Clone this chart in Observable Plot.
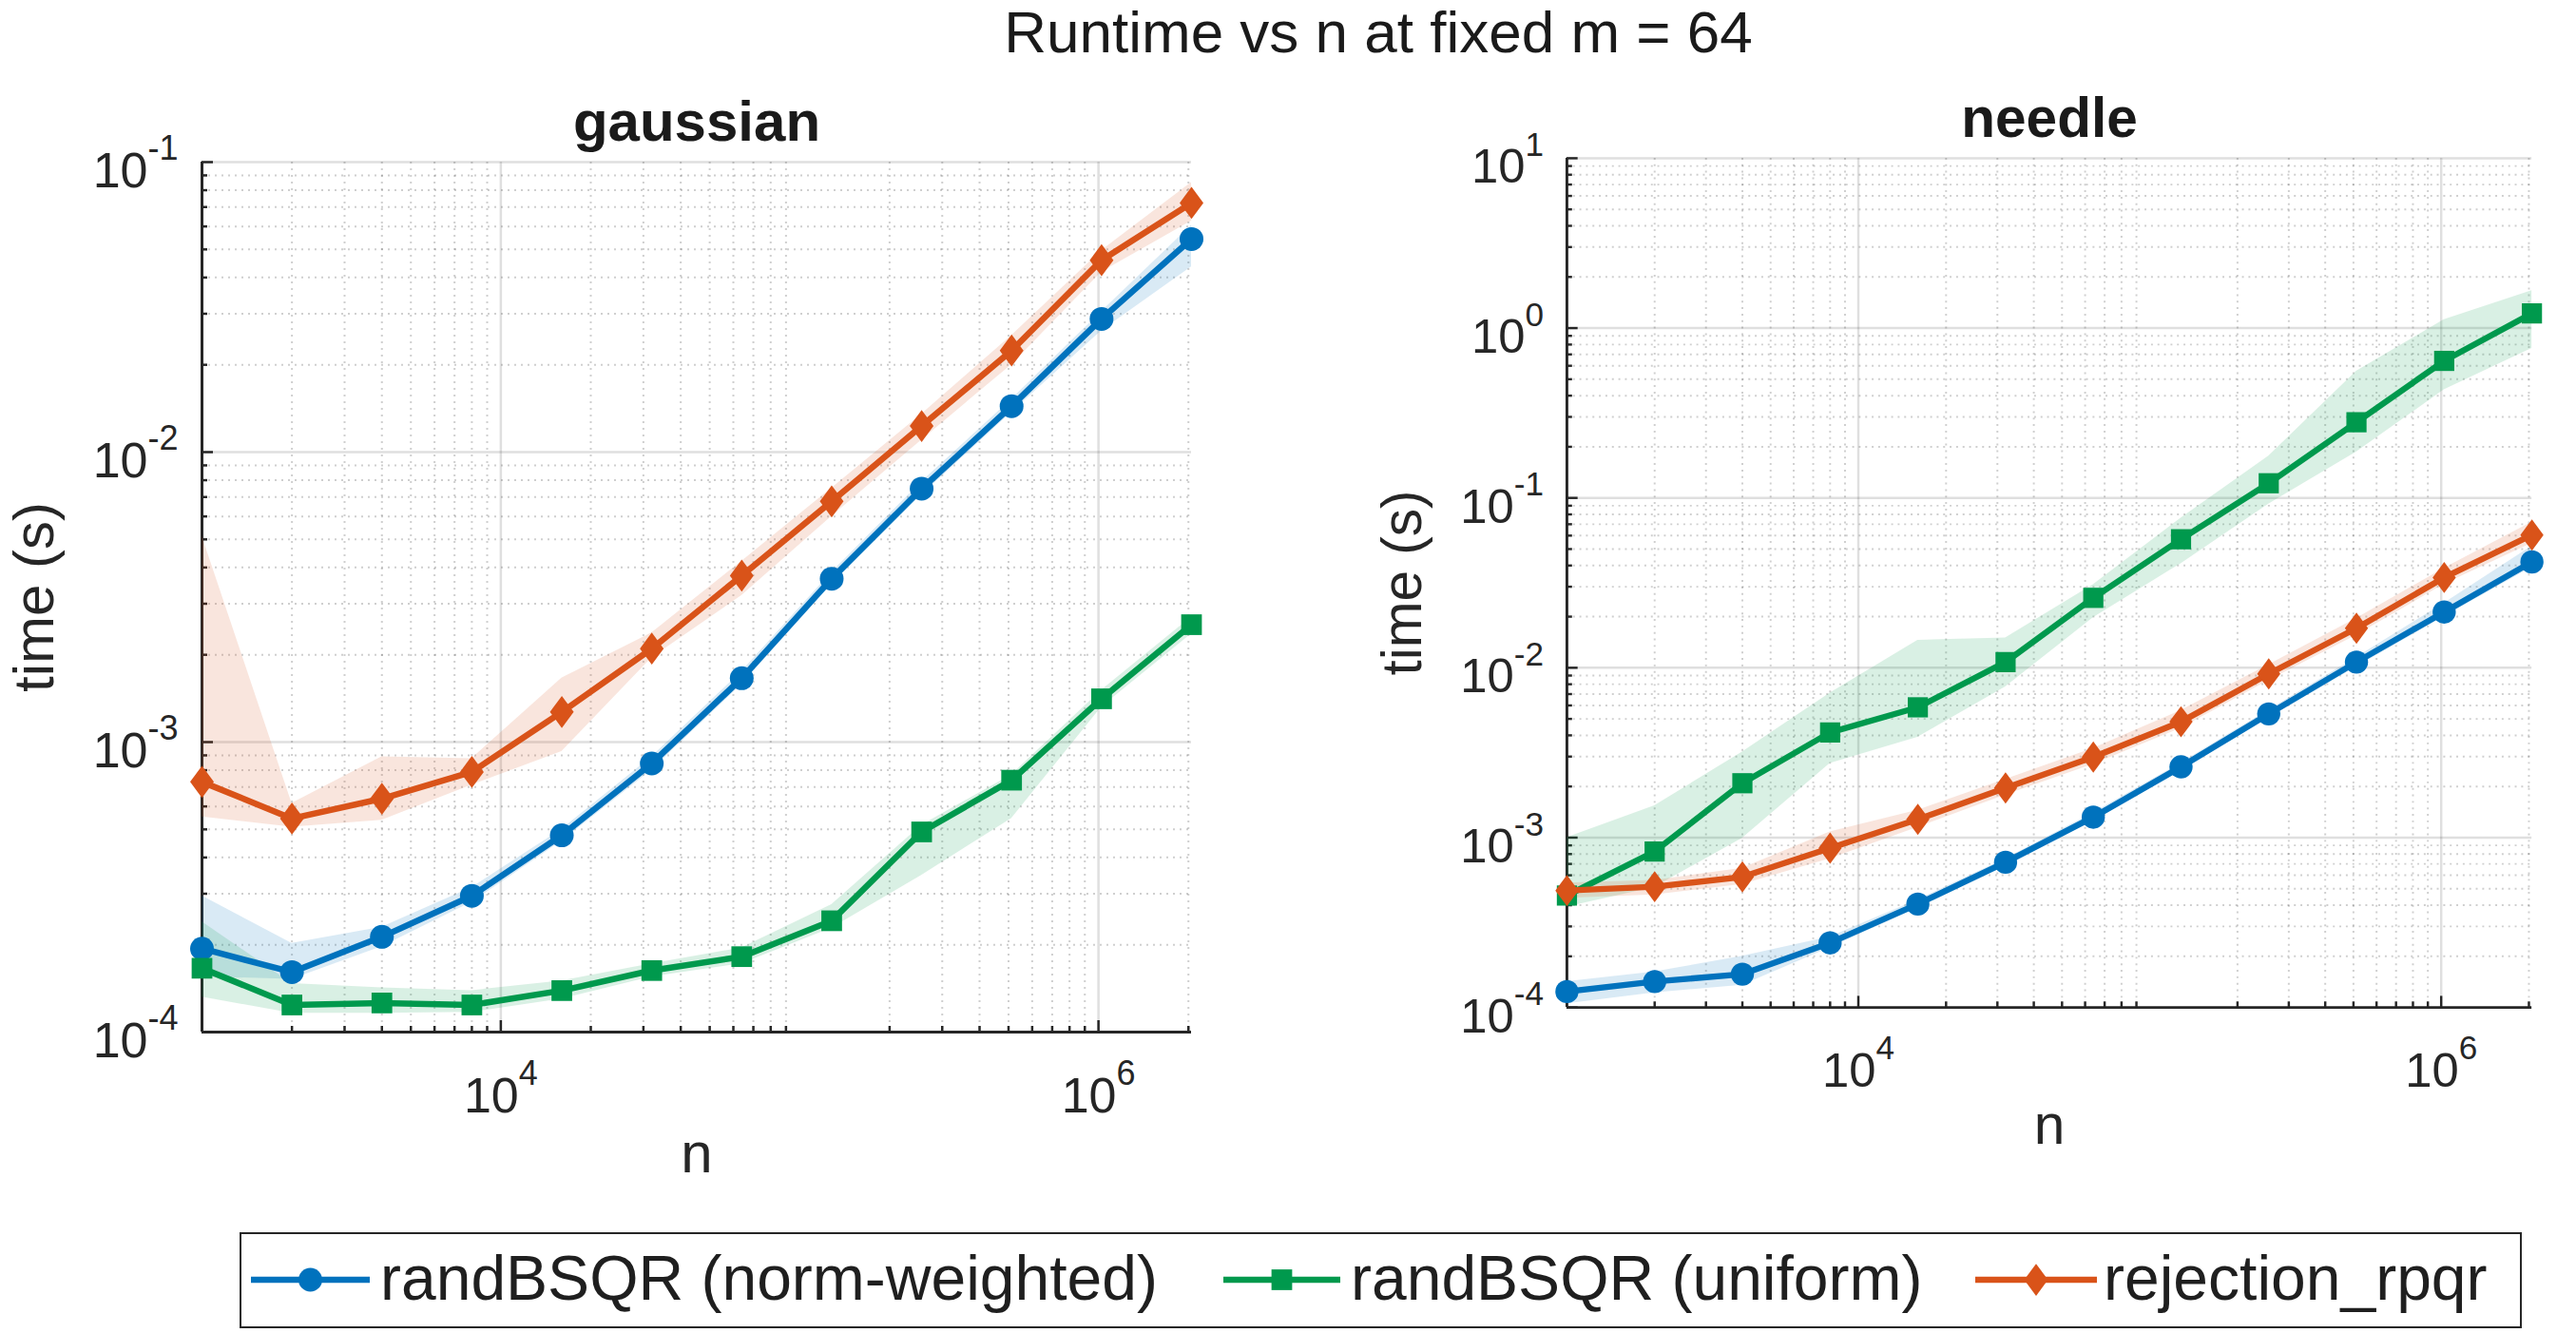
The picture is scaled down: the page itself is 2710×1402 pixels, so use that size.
<!DOCTYPE html>
<html>
<head>
<meta charset="utf-8">
<script src="https://cdn.jsdelivr.net/npm/d3@7"></script>
<script src="https://cdn.jsdelivr.net/npm/@observablehq/plot@0.6"></script>
<style>
  body { margin: 0; background: #fff; }
  #fig { position: relative; width: 2710px; height: 1402px; overflow: hidden; background: #fff;
         font-family: "Liberation Sans", Arial, sans-serif; color: #262626; }
  #title { position: absolute; left: 0; top: 3px; width: 2900px; text-align: center;
           font-size: 62px; line-height: 62px; color: #1a1a1a; white-space: nowrap; }
  .panel { position: absolute; top: 0; }
  #legend { position: absolute; left: 252px; top: 1296px; }
</style>
</head>
<body>
<div id="fig">
  <div id="title">Runtime vs n at fixed m = 64</div>
  <div class="panel" id="left"></div>
  <div class="panel" id="right" style="left:1441px"></div>
  <div id="legend"></div>
</div>
<script>
// Problem sizes n (m fixed at 64)
const nValues = [1000, 2000, 4000, 8000, 16000, 32000, 64000, 128000, 256000, 512000, 1024000, 2048000];

const seriesNames = ["randBSQR (norm-weighted)", "randBSQR (uniform)", "rejection_rpqr"];
const seriesColors = ["#0072BD", "#00994D", "#D95319"];
const panelTitles = ["gaussian", "needle"];

const xTickValues = [1e4, 1e6];
const gaussianYTicks = [1e-4, 1e-3, 1e-2, 1e-1];
const needleYTicks = [1e-4, 1e-3, 1e-2, 1e-1, 1e0, 1e1];

// gaussian: median runtime (s) with spread band
const gaussNormMid = [1.94e-4, 1.61e-4, 2.13e-4, 2.95e-4, 4.77e-4, 8.44e-4, 1.66e-3, 3.66e-3, 7.48e-3, 1.44e-2, 2.88e-2, 5.43e-2];
const gaussNormLo  = [1.55e-4, 1.52e-4, 1.97e-4, 2.80e-4, 4.55e-4, 8.00e-4, 1.58e-3, 3.50e-3, 7.10e-3, 1.37e-2, 2.62e-2, 4.35e-2];
const gaussNormHi  = [2.95e-4, 2.02e-4, 2.30e-4, 3.15e-4, 5.00e-4, 8.90e-4, 1.75e-3, 3.85e-3, 7.90e-3, 1.52e-2, 3.05e-2, 6.05e-2];

const gaussUnifMid = [1.66e-4, 1.24e-4, 1.26e-4, 1.24e-4, 1.39e-4, 1.63e-4, 1.82e-4, 2.42e-4, 4.90e-4, 7.39e-4, 1.41e-3, 2.54e-3];
const gaussUnifLo  = [1.32e-4, 1.16e-4, 1.16e-4, 1.17e-4, 1.30e-4, 1.55e-4, 1.72e-4, 2.28e-4, 3.47e-4, 5.45e-4, 1.32e-3, 2.36e-3];
const gaussUnifHi  = [2.40e-4, 1.47e-4, 1.42e-4, 1.39e-4, 1.50e-4, 1.72e-4, 1.95e-4, 2.75e-4, 5.17e-4, 7.70e-4, 1.51e-3, 2.70e-3];

const gaussRejMid  = [7.29e-4, 5.45e-4, 6.38e-4, 7.89e-4, 1.27e-3, 2.10e-3, 3.75e-3, 6.76e-3, 1.23e-2, 2.24e-2, 4.59e-2, 7.23e-2];
const gaussRejLo   = [5.52e-4, 5.09e-4, 5.37e-4, 7.10e-4, 9.27e-4, 1.95e-3, 3.20e-3, 6.00e-3, 1.10e-2, 2.00e-2, 4.17e-2, 6.26e-2];
const gaussRejHi   = [5.14e-3, 6.14e-4, 8.90e-4, 8.77e-4, 1.66e-3, 2.38e-3, 4.20e-3, 7.50e-3, 1.35e-2, 2.52e-2, 4.95e-2, 8.50e-2];

// needle: median runtime (s) with spread band
const needleNormMid = [1.24e-4, 1.42e-4, 1.57e-4, 2.40e-4, 4.06e-4, 7.16e-4, 1.32e-3, 2.61e-3, 5.35e-3, 1.08e-2, 2.13e-2, 4.20e-2];
const needleNormLo  = [1.05e-4, 1.22e-4, 1.35e-4, 2.25e-4, 3.85e-4, 6.80e-4, 1.25e-3, 2.48e-3, 5.05e-3, 1.01e-2, 2.00e-2, 3.90e-2];
const needleNormHi  = [1.42e-4, 1.62e-4, 2.00e-4, 2.60e-4, 4.30e-4, 7.50e-4, 1.40e-3, 2.75e-3, 5.65e-3, 1.15e-2, 2.40e-2, 5.20e-2];

const needleUnifMid = [4.56e-4, 8.28e-4, 2.09e-3, 4.16e-3, 5.85e-3, 1.08e-2, 2.58e-2, 5.71e-2, 0.122, 0.279, 0.641, 1.22];
const needleUnifLo  = [3.90e-4, 5.10e-4, 9.90e-4, 2.73e-3, 3.90e-3, 7.70e-3, 1.97e-2, 4.10e-2, 9.20e-2, 0.186, 0.433, 0.759];
const needleUnifHi  = [1.00e-3, 1.54e-3, 3.19e-3, 7.10e-3, 1.45e-2, 1.50e-2, 3.08e-2, 7.60e-2, 0.176, 0.556, 1.12, 1.66];

const needleRejMid  = [4.88e-4, 5.14e-4, 5.87e-4, 8.67e-4, 1.28e-3, 1.96e-3, 2.98e-3, 4.81e-3, 9.20e-3, 1.71e-2, 3.40e-2, 6.05e-2];
const needleRejLo   = [4.40e-4, 4.60e-4, 5.30e-4, 7.50e-4, 1.15e-3, 1.78e-3, 2.70e-3, 4.40e-3, 8.40e-3, 1.55e-2, 3.10e-2, 5.40e-2];
const needleRejHi   = [5.40e-4, 5.60e-4, 6.60e-4, 1.08e-3, 1.45e-3, 2.20e-3, 3.35e-3, 5.60e-3, 1.04e-2, 1.95e-2, 3.85e-2, 7.20e-2];

// Marker shapes (filled), sized from the dot radius r
const circleMark = { draw(ctx, size) { const r = Math.sqrt(size / Math.PI); ctx.moveTo(r, 0); ctx.arc(0, 0, r, 0, 2 * Math.PI); } };
const squareMark = { draw(ctx, size) { const h = Math.sqrt(size / Math.PI) * 0.87; ctx.rect(-h, -h, 2 * h, 2 * h); } };
const diamondMark = { draw(ctx, size) {
  const r = Math.sqrt(size / Math.PI), w = r * 1.0, h = r * 1.35;
  ctx.moveTo(0, -h); ctx.lineTo(w, 0); ctx.lineTo(0, h); ctx.lineTo(-w, 0); ctx.closePath();
} };
const seriesSymbols = [circleMark, squareMark, diamondMark];
const markerR = 12.5;
const lineW = 6.5;

function rows(mid, lo, hi) {
  return nValues.map((n, i) => ({n, t: mid[i], lo: lo[i], hi: hi[i]}));
}

const gaussianSeries = [
  rows(gaussNormMid, gaussNormLo, gaussNormHi),
  rows(gaussUnifMid, gaussUnifLo, gaussUnifHi),
  rows(gaussRejMid, gaussRejLo, gaussRejHi)
];
const needleSeries = [
  rows(needleNormMid, needleNormLo, needleNormHi),
  rows(needleUnifMid, needleUnifLo, needleUnifHi),
  rows(needleRejMid, needleRejLo, needleRejHi)
];

// Minor log ticks: 2..9 x 10^k inside a domain
function logMinors([lo, hi]) {
  const out = [];
  for (let e = Math.floor(Math.log10(lo)); e <= Math.ceil(Math.log10(hi)); e++) {
    for (let k = 2; k <= 9; k++) {
      const v = +(k + "e" + e);
      if (v > lo * 1.0001 && v < hi * 1.0001) out.push(v);
    }
  }
  return out;
}

const pow10Label = d => "10^" + Math.round(Math.log10(d));
const AX = "#262626";

function panel(title, series, yDomain, yTicks, marginRight) {
  const W = 1300, H = 1270, mL = 212, mT = 170, mB = 185;
  const fw = W - mL - marginRight, fh = H - mT - mB;
  const xDomain = [nValues[0], nValues[nValues.length - 1]];
  const minorX = logMinors(xDomain);
  const minorY = logMinors(yDomain);
  const marks = [
    // grid
    Plot.ruleX(minorX, {stroke: AX, strokeOpacity: 0.22, strokeWidth: 2, strokeDasharray: "2,5"}),
    Plot.ruleY(minorY, {stroke: AX, strokeOpacity: 0.22, strokeWidth: 2, strokeDasharray: "2,5"}),
    Plot.ruleX(xTickValues, {stroke: AX, strokeOpacity: 0.15, strokeWidth: 2.5}),
    Plot.ruleY(yTicks.slice(1), {stroke: AX, strokeOpacity: 0.15, strokeWidth: 2.5}),
    // axis lines and inward ticks
    Plot.ruleY([yDomain[0]], {stroke: AX, strokeWidth: 3}),
    Plot.ruleX([xDomain[0]], {stroke: AX, strokeWidth: 3}),
    Plot.ruleX(xTickValues, {stroke: AX, strokeWidth: 2.5, insetTop: fh - 12}),
    Plot.ruleX(minorX, {stroke: AX, strokeWidth: 2.5, insetTop: fh - 6}),
    Plot.ruleY(yTicks, {stroke: AX, strokeWidth: 2.5, insetRight: fw - 12}),
    Plot.ruleY(minorY, {stroke: AX, strokeWidth: 2.5, insetRight: fw - 6}),
    Plot.axisX({ticks: xTickValues, tickFormat: pow10Label, tickSize: 0, tickPadding: 48, fontSize: 52, label: null}),
    Plot.axisY({ticks: yTicks, tickFormat: pow10Label, tickSize: 0, tickPadding: 25, fontSize: 52, label: null})
  ];
  // spread bands
  series.forEach((data, i) => {
    marks.push(Plot.areaY(data, {x: "n", y1: "lo", y2: "hi", fill: seriesColors[i], fillOpacity: 0.15}));
  });
  // median lines with markers
  series.forEach((data, i) => {
    marks.push(Plot.line(data, {x: "n", y: "t", stroke: seriesColors[i], strokeWidth: lineW}));
    marks.push(Plot.dot(data, {x: "n", y: "t", fill: seriesColors[i], stroke: "none", r: markerR, symbol: seriesSymbols[i]}));
  });
  marks.push(
    Plot.text([title], {text: d => d, frameAnchor: "top", textAnchor: "middle", lineAnchor: "middle",
      dy: -42, fontSize: 60, fontWeight: "bold", fill: "#1a1a1a"}),
    Plot.text(["time (s)"], {text: d => d, frameAnchor: "left", textAnchor: "middle", lineAnchor: "middle",
      rotate: -90, dx: -176, fontSize: 60}),
    Plot.text(["n"], {text: d => d, frameAnchor: "bottom", textAnchor: "middle", lineAnchor: "middle",
      dy: 128, fontSize: 60})
  );

  const svg = Plot.plot({
    width: W, height: H,
    marginLeft: mL, marginRight, marginTop: mT, marginBottom: mB,
    style: {fontFamily: "'Liberation Sans', Arial, sans-serif", fontSize: "52px", color: AX, background: "transparent", overflow: "visible"},
    x: {type: "log", domain: xDomain},
    y: {type: "log", domain: yDomain},
    marks
  });

  // Tick labels "10^k" -> 10 with raised exponent
  for (const t of svg.querySelectorAll("text")) {
    const m = /^10\^(.+)$/.exec(t.textContent);
    if (!m) continue;
    const isY = !!t.closest('[aria-label^="y-axis"]');
    t.textContent = "10";
    const sup = document.createElementNS("http://www.w3.org/2000/svg", "tspan");
    sup.setAttribute("dy", "-29");
    sup.setAttribute("font-size", "36");
    sup.textContent = m[1];
    t.appendChild(sup);
    if (isY) t.setAttribute("transform", (t.getAttribute("transform") || "") + " translate(0,10)");
  }
  return svg;
}

document.getElementById("left").appendChild(panel(panelTitles[0], gaussianSeries, [1e-4, 1e-1], gaussianYTicks, 47));
document.getElementById("right").appendChild(panel(panelTitles[1], needleSeries, [1e-4, 1e1], needleYTicks, 48));

// Legend below the panels
(function legend() {
  const W = 2401, H = 101;
  const svg = d3.create("svg").attr("width", W).attr("height", H)
    .style("font-family", "'Liberation Sans', Arial, sans-serif");
  svg.append("rect").attr("x", 1).attr("y", 1).attr("width", W - 2).attr("height", H - 2)
    .attr("fill", "#fff").attr("stroke", AX).attr("stroke-width", 2);
  const swatchX = [12, 1035, 1826];
  const swatchLen = [125, 123, 128];
  const textX = [148, 1169, 1961];
  const cy = 50, base = 71;
  seriesNames.forEach((name, i) => {
    const x0 = swatchX[i], x1 = x0 + swatchLen[i];
    svg.append("line").attr("x1", x0).attr("x2", x1).attr("y1", cy).attr("y2", cy)
      .attr("stroke", seriesColors[i]).attr("stroke-width", lineW);
    svg.append("path")
      .attr("d", d3.symbol().type(seriesSymbols[i]).size(Math.PI * markerR * markerR)())
      .attr("transform", `translate(${(x0 + x1) / 2},${cy})`)
      .attr("fill", seriesColors[i]);
    svg.append("text").attr("x", textX[i]).attr("y", base)
      .attr("font-size", 66).attr("fill", "#1f1f1f").text(name);
  });
  document.getElementById("legend").appendChild(svg.node());
})();
</script>
</body>
</html>
